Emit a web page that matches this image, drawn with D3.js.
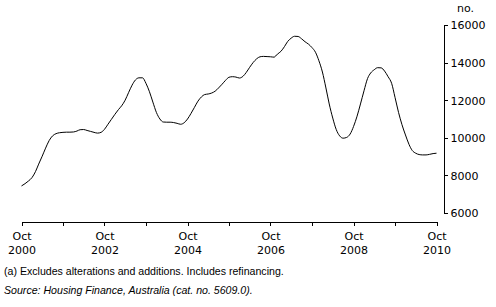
<!DOCTYPE html>
<html>
<head>
<meta charset="utf-8">
<script src="https://cdn.jsdelivr.net/npm/d3@7"></script>
<style>
  body { margin: 0; background: #fff; }
  svg { display: block; }
  .axis text { font-family: "DejaVu Sans", sans-serif; font-size: 11px; fill: #000; }
  .axis path, .axis line { stroke: #000; stroke-width: 1; shape-rendering: crispEdges; }
  .note { font-family: "Liberation Sans", Arial, sans-serif; font-size: 10.6px; fill: #000; }
</style>
</head>
<body>
<div id="chart"></div>
<script>
// monthly trend, Oct 2000 to Oct 2010 (no.)
const startMonth = new Date(2000, 9, 1);
const values = [
  7440, 7560, 7700, 7880, 8200, 8600, 9020, 9450, 9850, 10100, 10220, 10270,
  10290, 10300, 10300, 10310, 10360, 10430, 10440, 10390, 10340, 10290, 10250, 10290,
  10450, 10720, 10980, 11250, 11500, 11700, 12000, 12400, 12800, 13080, 13190, 13190,
  12900, 12450, 11900, 11350, 11000, 10840, 10830, 10830, 10810, 10770, 10720, 10800,
  11000, 11300, 11620, 11950, 12180, 12300, 12330, 12380, 12480, 12650, 12850, 13060,
  13220, 13250, 13230, 13180, 13270, 13470, 13750, 14000, 14200, 14310, 14330, 14320,
  14310, 14290, 14450, 14600, 14850, 15120, 15300, 15400, 15390, 15270, 15110, 14980,
  14800, 14550, 14100, 13500, 12650, 11800, 11050, 10450, 10100, 9980, 10020, 10200,
  10600, 11150, 11800, 12500, 13150, 13450, 13620, 13730, 13720, 13550, 13250, 12900,
  12150, 11350, 10700, 10150, 9650, 9330, 9180, 9110, 9090, 9090, 9120, 9160,
  9180
];
const yTicks = [6000, 8000, 10000, 12000, 14000, 16000];
const xTickYears = [2000, 2001, 2002, 2003, 2004, 2005, 2006, 2007, 2008, 2009, 2010];
const labelYears = [2000, 2002, 2004, 2006, 2008, 2010];
const yUnit = "no.";
const footnote = "(a) Excludes alterations and additions. Includes refinancing.";
const source = "Source: Housing Finance, Australia (cat. no. 5609.0).";

const data = values.map((v, i) => ({ date: d3.timeMonth.offset(startMonth, i), value: v }));

const w = 496;
const h = 307;

const svg = d3.select("#chart")
    .append("svg")
    .attr("width", w)
    .attr("height", h);

const xScale = d3.scaleTime()
    .domain([new Date(2000, 9, 1), new Date(2010, 9, 1)])
    .range([21.5, 436.5]);

const yScale = d3.scaleLinear()
    .domain([6000, 16000])
    .range([213, 25]);

// x axis with yearly ticks, labels every second year
const xAxis = d3.axisBottom(xScale)
    .tickValues(xTickYears.map(y => new Date(y, 9, 1)))
    .tickSize(4)
    .tickSizeOuter(4)
    .tickFormat("");

const gx = svg.append("g")
    .attr("class", "axis")
    .attr("transform", "translate(0,221.5)")
    .call(xAxis);

gx.selectAll(".tick")
    .filter(d => labelYears.includes(d.getFullYear()))
    .each(function(d) {
        const t = d3.select(this).select("text");
        t.text(null).attr("y", 0).attr("dy", null);
        t.append("tspan").attr("x", 0).attr("y", 18).text("Oct");
        t.append("tspan").attr("x", 0).attr("y", 32).text(d.getFullYear());
    });

// y axis on the right
const yAxis = d3.axisRight(yScale)
    .tickValues(yTicks)
    .tickSize(4)
    .tickSizeOuter(4)
    .tickPadding(3)
    .tickFormat(d3.format("d"));

svg.append("g")
    .attr("class", "axis")
    .attr("transform", "translate(443.5,0)")
    .call(yAxis)
    .selectAll("text")
    .attr("dy", "0.35em");

svg.append("text")
    .attr("x", 457)
    .attr("y", 12)
    .attr("font-family", "DejaVu Sans, sans-serif")
    .attr("font-size", 11)
    .text(yUnit);

const line = d3.line()
    .x(d => xScale(d.date))
    .y(d => yScale(d.value))
    .curve(d3.curveMonotoneX);

svg.append("path")
    .datum(data)
    .attr("d", line)
    .attr("fill", "none")
    .attr("stroke", "#000")
    .attr("stroke-width", 1);

svg.append("text")
    .attr("class", "note")
    .attr("x", 4)
    .attr("y", 275)
    .text(footnote);

svg.append("text")
    .attr("class", "note")
    .attr("x", 4)
    .attr("y", 294)
    .attr("font-style", "italic")
    .text(source);
</script>
</body>
</html>
